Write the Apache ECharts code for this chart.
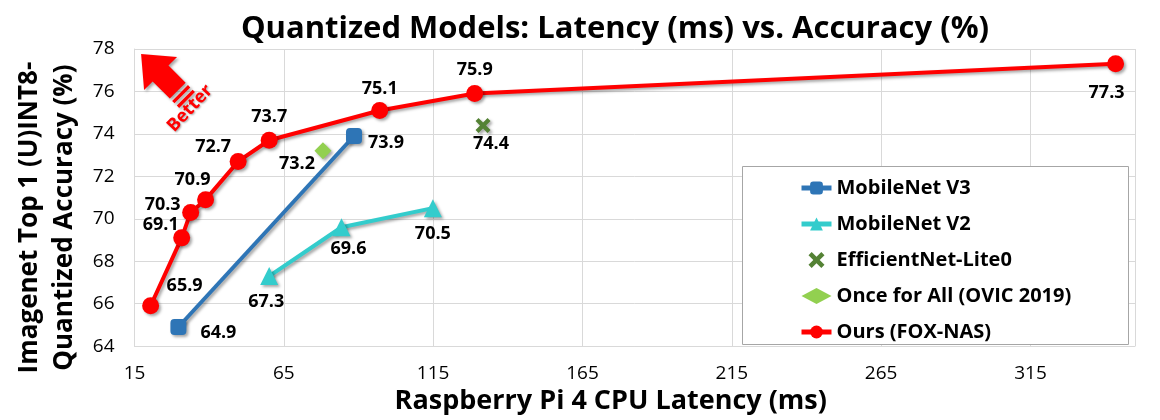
<!DOCTYPE html>
<html>
<head>
<meta charset="utf-8">
<script src="https://cdn.jsdelivr.net/npm/echarts@6/dist/echarts.min.js"></script>
<style>html,body{margin:0;padding:0;background:#fff}#c{width:1160px;height:420px}</style>
</head>
<body>
<div id="c"></div>
<script>
// ---- data ----
const xTickLabels = [15, 65, 115, 165, 215, 265, 315];
const yTickLabels = [64, 66, 68, 70, 72, 74, 76, 78];

const oursLatency = [20.4, 30.8, 33.8, 38.8, 49.7, 60.1, 97.1, 128.9, 343.5];
const oursAccuracy = [65.9, 69.1, 70.3, 70.9, 72.7, 73.7, 75.1, 75.9, 77.3];

const mnv3Latency = [29.7, 88.5];
const mnv3Accuracy = [64.9, 73.9];

const mnv2Latency = [60.1, 84.3, 114.9];
const mnv2Accuracy = [67.3, 69.6, 70.5];

const effLatency = [131.7];
const effAccuracy = [74.4];

const ofaLatency = [78.1];
const ofaAccuracy = [73.2];

const seriesNames = ['MobileNet V3', 'MobileNet V2', 'EfficientNet-Lite0', 'Once for All (OVIC 2019)', 'Ours (FOX-NAS)'];

// ---- label offsets (style only) ----
const oursLabelOffsets = [[34, -20], [-21, -13], [-28, -8], [-13, -20], [-25, -15], [0, -23], [0, -22], [0, -24], [-9, 29]];
const mnv3LabelOffsets = [[40, 6], [32, 7]];
const mnv2LabelOffsets = [[-3, 26], [7, 22], [0, 26]];
const effLabelOffsets = [[8, 18]];
const ofaLabelOffsets = [[-26, 13]];

const FONT = '"Open Sans", "Liberation Sans", sans-serif';

function pts(xs, ys, offs) {
  return xs.map((x, i) => ({
    value: [x, ys[i]],
    label: { offset: offs[i] }
  }));
}

const shadow = { shadowColor: 'rgba(0,0,0,0.35)', shadowBlur: 3, shadowOffsetX: 2, shadowOffsetY: 2 };

const dataLabel = {
  show: true,
  position: 'inside',
  fontFamily: FONT,
  fontWeight: 'bold',
  fontSize: 18,
  color: '#000',
  opacity: 1,
  formatter: p => p.value[1].toFixed(1)
};

const chart = echarts.init(document.getElementById('c'), null, { renderer: 'canvas' });

chart.setOption({
  animation: false,
  backgroundColor: '#fff',
  title: {
    text: 'Quantized Models: Latency (ms) vs. Accuracy (%)',
    left: 610,
    top: 9,
    textAlign: 'center',
    textStyle: { fontFamily: FONT, fontWeight: 'bold', fontSize: 31, color: '#000' }
  },
  grid: { left: 134.5, right: 25, top: 49, bottom: 73.5, containLabel: false },
  xAxis: {
    type: 'value',
    min: 15,
    max: 350,
    interval: 50,
    name: 'Raspberry Pi 4 CPU Latency (ms)',
    nameLocation: 'middle',
    nameGap: 38,
    nameTextStyle: { fontFamily: FONT, fontWeight: 'bold', fontSize: 27, color: '#000', padding: [0, 48, 0, 0] },
    axisLine: { show: true, lineStyle: { color: '#D9D9D9', width: 1 } },
    axisTick: { show: false },
    axisLabel: {
      fontFamily: FONT, fontSize: 19, color: '#000', margin: 18,
      formatter: v => (xTickLabels.indexOf(v) >= 0 ? String(v) : '')
    },
    splitLine: { show: true, lineStyle: { color: '#D9D9D9', width: 1 } }
  },
  yAxis: {
    type: 'value',
    min: 64,
    max: 78,
    interval: 2,
    name: 'Imagenet Top 1 (U)INT8-\nQuantized Accuracy (%)',
    nameLocation: 'middle',
    nameRotate: 90,
    nameGap: 52,
    nameTextStyle: { fontFamily: FONT, fontWeight: 'bold', fontSize: 26, lineHeight: 35, color: '#000', padding: [0, 40, 0, 0] },
    axisLine: { show: true, lineStyle: { color: '#D9D9D9', width: 1 } },
    axisTick: { show: false },
    axisLabel: {
      fontFamily: FONT, fontSize: 19, color: '#000', margin: 20,
      formatter: v => (yTickLabels.indexOf(v) >= 0 ? String(v) : '')
    },
    splitLine: { show: true, lineStyle: { color: '#D9D9D9', width: 1 } }
  },
  legend: {
    orient: 'vertical',
    left: 794,
    top: 172,
    z: 10,
    itemWidth: 30,
    itemHeight: 16,
    itemGap: 14,
    data: seriesNames,
    lineStyle: { width: 5 },
    itemStyle: { shadowBlur: 0, shadowOffsetX: 0, shadowOffsetY: 0 },
    textStyle: { fontFamily: FONT, fontWeight: 'bold', fontSize: 20, lineHeight: 22, color: '#000' }
  },
  graphic: [{
    type: 'rect',
    z: 5,
    shape: { x: 742.5, y: 166.5, width: 386, height: 178 },
    style: { fill: '#fff', stroke: '#A6A6A6', lineWidth: 1 }
  }],
  series: [
    {
      name: 'MobileNet V3',
      type: 'line',
      symbol: 'roundRect',
      symbolSize: 16,
      color: '#2E75B6',
      lineStyle: Object.assign({ width: 4, color: '#2E75B6' }, shadow),
      itemStyle: Object.assign({ color: '#2E75B6', borderColor: '#2E75B6', borderWidth: 0 }, shadow),
      label: dataLabel,
      data: pts(mnv3Latency, mnv3Accuracy, mnv3LabelOffsets),
      z: 3
    },
    {
      name: 'MobileNet V2',
      type: 'line',
      symbol: 'triangle',
      symbolSize: 18,
      color: '#33CCCC',
      lineStyle: Object.assign({ width: 4, color: '#33CCCC' }, shadow),
      itemStyle: Object.assign({ color: '#33CCCC' }, shadow),
      label: dataLabel,
      data: pts(mnv2Latency, mnv2Accuracy, mnv2LabelOffsets),
      z: 3
    },
    {
      name: 'EfficientNet-Lite0',
      type: 'scatter',
      symbol: 'path://M0,2 L2,0 L5,3 L8,0 L10,2 L7,5 L10,8 L8,10 L5,7 L2,10 L0,8 L3,5 Z',
      symbolSize: 15,
      color: '#548235',
      itemStyle: Object.assign({ color: '#548235', opacity: 1 }, shadow),
      label: dataLabel,
      data: pts(effLatency, effAccuracy, effLabelOffsets),
      z: 3
    },
    {
      name: 'Once for All (OVIC 2019)',
      type: 'scatter',
      symbol: 'diamond',
      symbolSize: 17,
      color: '#92D050',
      itemStyle: Object.assign({ color: '#92D050', opacity: 1 }, shadow),
      label: dataLabel,
      data: pts(ofaLatency, ofaAccuracy, ofaLabelOffsets),
      z: 3
    },
    {
      name: 'Ours (FOX-NAS)',
      type: 'line',
      symbol: 'circle',
      symbolSize: 17,
      color: '#FF0000',
      lineStyle: Object.assign({ width: 4, color: '#FF0000' }, shadow),
      itemStyle: Object.assign({ color: '#FF0000' }, shadow),
      label: dataLabel,
      data: pts(oursLatency, oursAccuracy, oursLabelOffsets),
      z: 4,
      markPoint: {
        silent: true,
        data: [
          {
            coord: [24.9, 76.68],
            symbol: 'path://M25,0 L50,25 L37,25 L37,47 L13,47 L13,25 L0,25 Z M13,50 L37,50 L37,53 L13,53 Z M13,56 L37,56 L37,59 L13,59 Z',
            symbolSize: [55, 65],
            symbolRotate: 45,
            symbolKeepAspect: true,
            itemStyle: Object.assign({ color: '#FF0000' }, shadow),
            label: { show: false }
          },
          {
            coord: [33.6, 75.2],
            symbol: 'circle',
            symbolSize: 0,
            label: {
              show: true,
              position: 'inside',
              formatter: 'Better',
              rotate: 47,
              fontFamily: FONT,
              fontWeight: 'bold',
              fontSize: 18,
              color: '#FF0000',
              textShadowColor: 'rgba(0,0,0,0.35)',
              textShadowBlur: 2,
              textShadowOffsetX: 1,
              textShadowOffsetY: 1
            }
          }
        ]
      }
    }
  ]
});
</script>
</body>
</html>
